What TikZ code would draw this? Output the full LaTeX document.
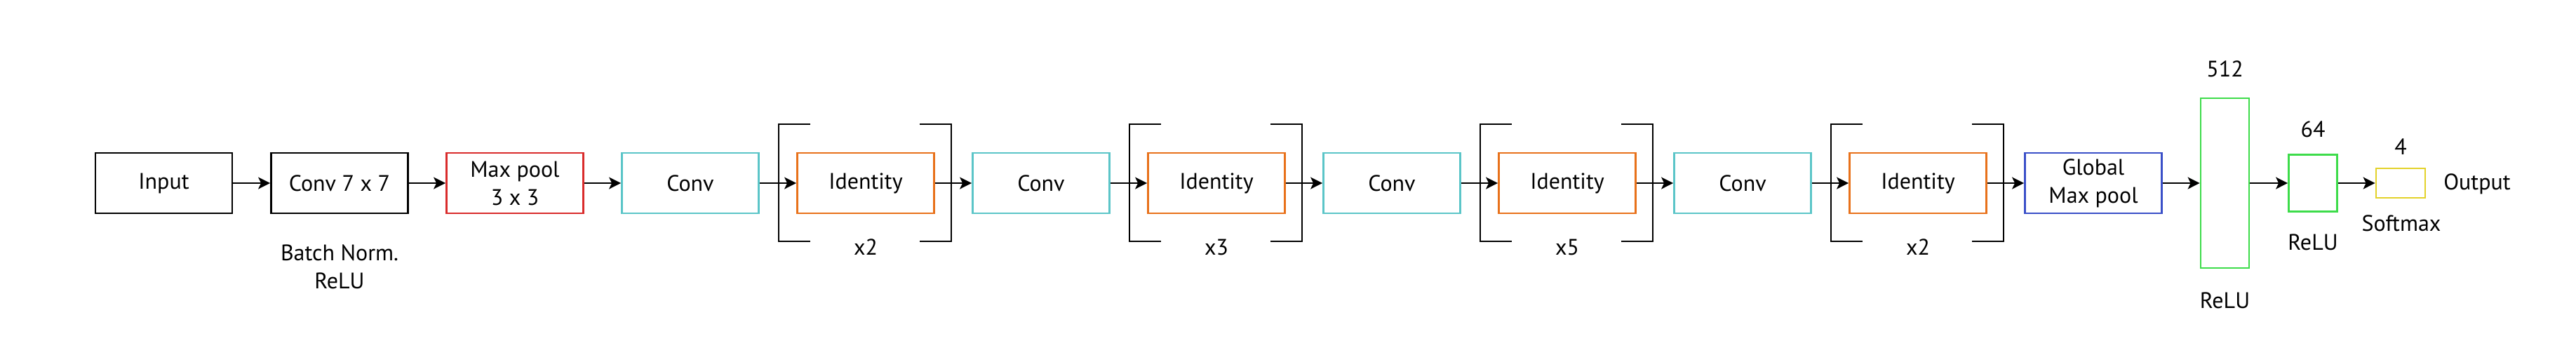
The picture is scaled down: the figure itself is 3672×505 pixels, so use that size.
\documentclass[tikz,border=0pt]{standalone}
\usepackage{fontspec}
\setmainfont{PT Sans}
\usetikzlibrary{arrows.meta,calc}
\definecolor{cred}{RGB}{217,43,43}
\definecolor{ccyan}{RGB}{91,197,200}
\definecolor{corange}{RGB}{232,113,26}
\definecolor{cblue}{RGB}{58,79,200}
\definecolor{cgreen}{RGB}{61,220,74}
\definecolor{cyell}{RGB}{227,210,42}
\tikzset{
  blk/.style={draw, line width=1.4pt, minimum width=97.5pt, minimum height=43pt, inner sep=0pt, align=center, font=\fontsize{16}{20}\selectfont},
  fc/.style={draw=cgreen, line width=1.4pt, minimum width=34.5pt, inner sep=0pt},
  lbl/.style={font=\fontsize{16}{20}\selectfont, align=center, inner sep=0pt},
  arr/.style={-{Stealth[length=8.5pt,width=8.5pt,inset=2pt]}, line width=1pt},
  brk/.style={line width=1pt}
}
\begin{document}
\begin{tikzpicture}[x=0.5pt,y=-0.5pt]
\useasboundingbox (0,0) rectangle (3672,505);
\node[blk] (input) at (233.5,261) {Input};
\node[blk] (conv7) at (484,261) {Conv 7 x 7};
\node[blk,draw=cred] (maxpool) at (734,261) {Max pool\\3 x 3};
\node[blk,draw=ccyan] (conv1) at (984,261) {Conv};
\node[blk,draw=corange] (id1) at (1234,261) {Identity};
\node[blk,draw=ccyan] (conv2) at (1484,261) {Conv};
\node[blk,draw=corange] (id2) at (1734,261) {Identity};
\node[blk,draw=ccyan] (conv3) at (1984,261) {Conv};
\node[blk,draw=corange] (id3) at (2234,261) {Identity};
\node[blk,draw=ccyan] (conv4) at (2484,261) {Conv};
\node[blk,draw=corange] (id4) at (2734,261) {Identity};
\node[blk,draw=cblue] (gmp) at (2984,261) {Global\\Max pool};
\node[fc,minimum height=121pt] (fc512) at (3171.5,261) {};
\node[fc,minimum height=40.5pt] (fc64) at (3297,261) {};
\node[draw=cyell, line width=1.4pt, minimum width=35pt, minimum height=21pt, inner sep=0pt] (sm) at (3422,261) {};

\node[lbl] (bn) at (484,380) {Batch Norm.\\ReLU};
\node[lbl] (n512) at (3171.5,98) {512};
\node[lbl] (r512) at (3171.5,428) {ReLU};
\node[lbl] (n64) at (3297,184) {64};
\node[lbl] (r64) at (3297,345) {ReLU};
\node[lbl] (n4) at (3422,209) {4};
\node[lbl] (smx) at (3423,318) {Softmax};
\node[lbl] (out) at (3531,262) {Output};

\foreach \n/\r in {id1/x2,id2/x3,id3/x5,id4/x2}{
  \draw[brk] ($(\n)+(-79,-84)$) -- ($(\n)+(-124,-84)$) -- ($(\n)+(-124,83)$) -- ($(\n)+(-79,83)$);
  \draw[brk] ($(\n)+(77,-84)$) -- ($(\n)+(122,-84)$) -- ($(\n)+(122,83)$) -- ($(\n)+(77,83)$);
  \node[lbl] (\n-rep) at ($(\n)+(0,91)$) {\r};
}

\draw[arr] (input) -- (conv7);
\draw[arr] (conv7) -- (maxpool);
\draw[arr] (maxpool) -- (conv1);
\draw[arr] (conv1) -- (id1);
\draw[arr] (id1) -- (conv2);
\draw[arr] (conv2) -- (id2);
\draw[arr] (id2) -- (conv3);
\draw[arr] (conv3) -- (id3);
\draw[arr] (id3) -- (conv4);
\draw[arr] (conv4) -- (id4);
\draw[arr] (id4) -- (gmp);
\draw[arr] (gmp) -- (fc512);
\draw[arr] (fc512) -- (fc64);
\draw[arr] (fc64) -- (sm);
\end{tikzpicture}
\end{document}
